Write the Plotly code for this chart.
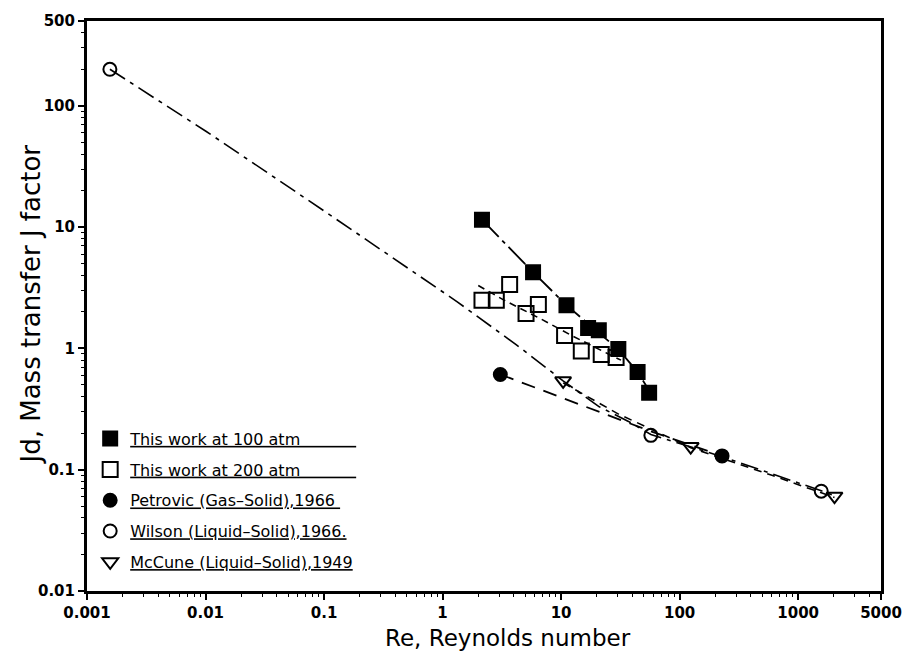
import plotly.graph_objects as go

# ---- data ----
re_100 = [2.15, 5.8, 11.1, 16.9, 20.8, 30.4, 44.2, 55.3]
jd_100 = [11.5, 4.25, 2.27, 1.47, 1.41, 0.99, 0.64, 0.43]

re_200 = [2.15, 2.84, 3.68, 5.06, 6.43, 10.7, 14.8, 21.8, 29.1]
jd_200 = [2.49, 2.49, 3.37, 1.94, 2.30, 1.28, 0.95, 0.89, 0.84]

re_petrovic = [3.07, 228]
jd_petrovic = [0.61, 0.13]

re_wilson = [0.00156, 57.2, 1567]
jd_wilson = [200, 0.192, 0.0665]

re_mccune = [10.4, 124, 2026]
jd_mccune = [0.54, 0.155, 0.0605]

# fitted curves drawn on the reference
curve100_re = [2.15, 5.8, 11.1, 20.0, 30.4, 44.2, 55.3]
curve100_jd = [11.5, 4.25, 2.27, 1.40, 0.98, 0.64, 0.45]

curve200_re = [2.0, 3.3, 6.6, 12.6, 25.6, 32.0]
curve200_jd = [3.3, 2.5, 1.77, 1.26, 0.89, 0.80]

curvePet_re = [3.07, 55.0, 228]
curvePet_jd = [0.61, 0.21, 0.13]

curveWil_re = [0.00156, 0.01, 0.1, 1.33, 4.2, 10.4, 21, 37, 57.2, 124, 228, 1567, 2100]
curveWil_jd = [200, 62, 13.6, 2.42, 1.07, 0.54, 0.33, 0.25, 0.195, 0.155, 0.128, 0.067, 0.06]

curveMc_re = [10.4, 30, 124, 600, 2026]
curveMc_jd = [0.52, 0.29, 0.152, 0.09, 0.059]

x_tickvals = [0.001, 0.01, 0.1, 1, 10, 100, 1000, 5000]
x_ticktext = ["0.001", "0.01", "0.1", "1", "10", "100", "1000", "5000"]
y_tickvals = [0.01, 0.1, 1, 10, 100, 500]
y_ticktext = ["0.01", "0.1", "1", "10", "100", "500"]

x_title = "Re, Reynolds number"
y_title = "Jd, Mass transfer J factor"

NB = "\u00a0"
names = [
    "<u>This work at 100 atm" + NB * 11 + "</u>",
    "<u>This work at 200 atm" + NB * 11 + "</u>",
    "<u>Petrovic (Gas–Solid),1966" + NB + "</u>",
    "<u>Wilson (Liquid–Solid),1966.</u>",
    "<u>McCune (Liquid–Solid),1949</u>",
]

FONT = "DejaVu Sans"
fig = go.Figure()

def curve(x, y, dash, width=1.6):
    fig.add_trace(go.Scatter(x=x, y=y, mode="lines", showlegend=False, hoverinfo="skip",
                             line=dict(color="black", width=width, dash=dash)))

curve(curveWil_re, curveWil_jd, "18px,6px,4px,6px")
curve(curveMc_re, curveMc_jd, "8px,6px")
curve(curvePet_re, curvePet_jd, "14px,9px", 1.8)
curve(curve100_re, curve100_jd, "24px,5px,4px,5px", 1.8)
curve(curve200_re, curve200_jd, "7px,5px")

def pts(x, y, name, symbol, size, group):
    fig.add_trace(go.Scatter(x=x, y=y, mode="markers", name=name, legendgroup=group,
                             marker=dict(symbol=symbol, size=size, color="black",
                                         line=dict(color="black", width=2))))

pts(re_100, jd_100, names[0], "square", 14, "a")
pts(re_200, jd_200, names[1], "square-open", 15, "b")
pts(re_petrovic, jd_petrovic, names[2], "circle", 13, "c")
pts(re_wilson, jd_wilson, names[3], "circle-open", 13, "d")
pts(re_mccune, jd_mccune, names[4], "triangle-down-open", 14, "e")

minor_x = [m * 10 ** e for e in range(-3, 4) for m in range(2, 10) if m * 10 ** e < 5000]
minor_y = [m * 10 ** e for e in range(-2, 3) for m in range(2, 10) if m * 10 ** e < 500]

axis_common = dict(showline=True, linecolor="black", linewidth=3, mirror=True,
                   ticks="outside", ticklen=6, tickwidth=2, tickcolor="black",
                   showgrid=False, zeroline=False,
                   tickfont=dict(family=FONT, size=15, color="black", weight="bold"))

fig.update_xaxes(type="log", range=[-3, 3.69897], tickmode="array",
                 tickvals=x_tickvals, ticktext=x_ticktext,
                 minor=dict(tickmode="array", tickvals=minor_x, ticks="outside",
                            ticklen=3, tickwidth=1, tickcolor="black"),
                 **axis_common)
fig.update_yaxes(type="log", range=[-2, 2.69897], tickmode="array",
                 tickvals=y_tickvals, ticktext=y_ticktext,
                 minor=dict(tickmode="array", tickvals=minor_y, ticks="outside",
                            ticklen=3, tickwidth=1, tickcolor="black"),
                 **axis_common)

fig.add_annotation(text=x_title, xref="paper", yref="paper", x=0.53, y=-0.057,
                   xanchor="center", yanchor="top", showarrow=False,
                   font=dict(family=FONT, size=23, color="black"))
fig.add_annotation(text=y_title, xref="paper", yref="paper", x=-0.071, y=0.502,
                   xanchor="center", yanchor="middle", textangle=-90, showarrow=False,
                   font=dict(family=FONT, size=26, color="black"))

fig.update_layout(
    width=914, height=656,
    margin=dict(l=87, r=27, t=14, b=65),
    paper_bgcolor="white", plot_bgcolor="white",
    font=dict(family=FONT, color="black"),
    showlegend=True,
    legend=dict(x=0.004, y=0.297, xanchor="left", yanchor="top",
                bgcolor="rgba(0,0,0,0)", traceorder="grouped", tracegroupgap=7,
                font=dict(family=FONT, size=16, color="black"), itemwidth=30),
)

fig.write_html("out.html")
